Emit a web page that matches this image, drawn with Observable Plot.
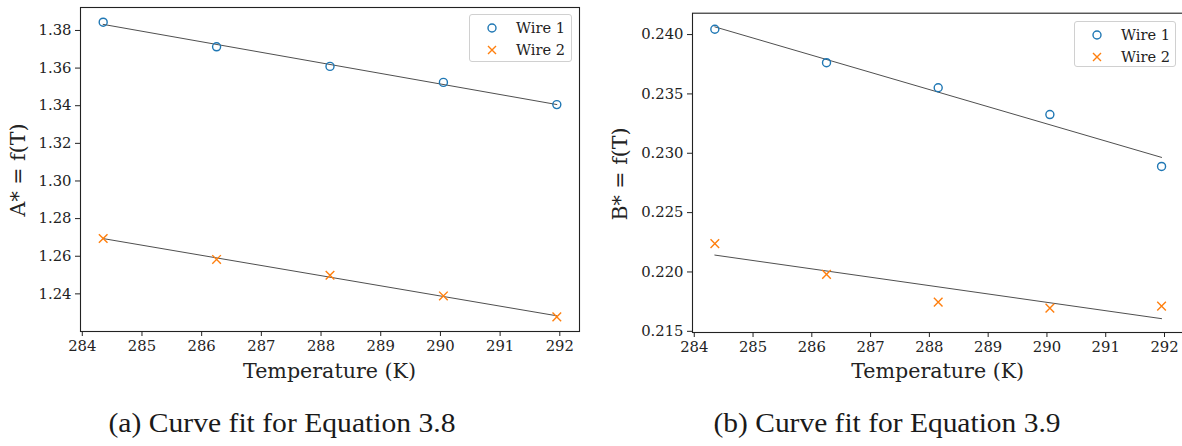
<!DOCTYPE html>
<html>
<head>
<meta charset="utf-8">
<script src="https://cdn.jsdelivr.net/npm/d3@7"></script>
<script src="https://cdn.jsdelivr.net/npm/@observablehq/plot@0.6"></script>
<style>
  body { margin: 0; background: white; }
  #fig { position: relative; width: 1182px; height: 446px; overflow: hidden; background: white; font-family: "DejaVu Serif", serif; color: #222; }
  .panel { position: absolute; top: 0; }
  .ylab, .xlab { position: absolute; white-space: nowrap; font-size: 20.6px; line-height: 1; }
  .ylab { transform: translate(-50%, -50%) rotate(-90deg); }
  .xlab { transform: translate(-50%, -50%); }
  .legend { position: absolute; box-sizing: border-box; border: 1px solid #d0d0d0; border-radius: 3px; background: rgba(255,255,255,0.8); font-size: 14.6px; }
  .legend .row { position: absolute; left: 0; right: 0; height: 20px; }
  .legend svg { position: absolute; left: 12px; top: 0; }
  .legend span { position: absolute; left: 46px; top: 1px; line-height: 18px; }
  .caption { position: absolute; top: 398px; }
</style>
</head>
<body>
<div id="fig"></div>
<script>
// Temperatures of the five measurements (K)
const temps = [284.35, 286.25, 288.15, 290.05, 291.95];

// Coefficient A* (Equation 3.8) for each wire
const aWire1 = [1.3844, 1.3713, 1.3609, 1.3524, 1.3406];
const aWire2 = [1.2694, 1.2583, 1.2499, 1.2389, 1.2278];

// Coefficient B* (Equation 3.9) for each wire
const bWire1 = [0.24045, 0.23763, 0.23552, 0.23326, 0.22889];
const bWire2 = [0.22239, 0.21980, 0.21746, 0.21695, 0.21712];

// Tick labels
const xTicks = [284, 285, 286, 287, 288, 289, 290, 291, 292];
const aTicks = [1.24, 1.26, 1.28, 1.30, 1.32, 1.34, 1.36, 1.38];
const bTicks = [0.215, 0.220, 0.225, 0.230, 0.235, 0.240];

const seriesNames = ["Wire 1", "Wire 2"];
const blue = "#1f77b4";
const orange = "#ff7f0e";
const serif = '"DejaVu Serif", serif';

const rows = (vals) => temps.map((t, i) => ({t, v: vals[i]}));

// One panel: both wires as markers, each with its least-squares line
function panel({w1, w2, yDomain, yTicks, yFormat, width, marginLeft, marginRight, marginTop, marginBottom}) {
  const r1 = rows(w1), r2 = rows(w2);
  return Plot.plot({
    width, height: 360,
    marginLeft, marginRight, marginTop, marginBottom,
    x: {domain: [283.97, 292.33]},
    y: {domain: yDomain},
    style: {fontFamily: serif, fontSize: "14.8px", color: "#222", background: "transparent", overflow: "visible"},
    marks: [
      Plot.axisX({ticks: xTicks, tickSize: 5, tickPadding: 4, tickFormat: d => String(d), label: null}),
      Plot.axisY({ticks: yTicks, tickSize: 5, tickPadding: 4, tickFormat: d3.format(yFormat), label: null}),
      Plot.linearRegressionY(r1, {x: "t", y: "v", ci: 0, stroke: "#222", strokeWidth: 0.8}),
      Plot.linearRegressionY(r2, {x: "t", y: "v", ci: 0, stroke: "#222", strokeWidth: 0.8}),
      Plot.dot(r1, {x: "t", y: "v", symbol: "circle", r: 4, stroke: blue, strokeWidth: 1.4, fill: "none"}),
      Plot.dot(r2, {x: "t", y: "v", symbol: "times", r: 4, stroke: orange, strokeWidth: 1.4}),
      Plot.frame({stroke: "#222", strokeWidth: 1.1})
    ]
  });
}

function legend(left, top, width, height) {
  const box = document.createElement("div");
  box.className = "legend";
  Object.assign(box.style, {left: left + "px", top: top + "px", width: width + "px", height: height + "px"});
  seriesNames.forEach((name, i) => {
    const row = document.createElement("div");
    row.className = "row";
    row.style.top = (3 + i * 22) + "px";
    const sym = i === 0
      ? `<circle cx="10" cy="10" r="4" fill="none" stroke="${blue}" stroke-width="1.4"/>`
      : `<path d="M6,6L14,14M6,14L14,6" stroke="${orange}" stroke-width="1.4"/>`;
    row.innerHTML = `<svg width="20" height="20">${sym}</svg><span>${name}</span>`;
    box.appendChild(row);
  });
  return box;
}

function label(cls, text, x, y) {
  const d = document.createElement("div");
  d.className = cls;
  d.textContent = text;
  d.style.left = x + "px";
  d.style.top = y + "px";
  return d;
}

function caption(text, cx) {
  const ns = "http://www.w3.org/2000/svg";
  const s = document.createElementNS(ns, "svg");
  s.setAttribute("class", "caption");
  s.setAttribute("width", 420);
  s.setAttribute("height", 48);
  s.style.left = (cx - 210) + "px";
  const t = document.createElementNS(ns, "text");
  t.setAttribute("x", 210);
  t.setAttribute("y", 34);
  t.setAttribute("text-anchor", "middle");
  t.setAttribute("textLength", 347);
  t.setAttribute("lengthAdjust", "spacingAndGlyphs");
  t.style.fontFamily = '"Liberation Serif", serif';
  t.style.fontSize = "27px";
  t.setAttribute("fill", "#1a1a1a");
  t.textContent = text;
  s.appendChild(t);
  return s;
}

const fig = document.getElementById("fig");

const left = panel({w1: aWire1, w2: aWire2, yDomain: [1.2200, 1.3922], yTicks: aTicks, yFormat: ".2f",
  width: 590, marginLeft: 80, marginRight: 11, marginTop: 7, marginBottom: 29});
left.classList.add("panel");
left.style.position = "absolute";
left.style.left = "0px";
fig.appendChild(left);

const right = panel({w1: bWire1, w2: bWire2, yDomain: [0.2149, 0.2418], yTicks: bTicks, yFormat: ".3f",
  width: 600, marginLeft: 92, marginRight: 16.6, marginTop: 12.7, marginBottom: 28});
right.classList.add("panel");
right.style.position = "absolute";
right.style.left = "600px";
fig.appendChild(right);

fig.appendChild(label("ylab", "A* = f(T)", 18, 170));
fig.appendChild(label("xlab", "Temperature (K)", 329.5, 371));
fig.appendChild(label("ylab", "B* = f(T)", 620, 174));
fig.appendChild(label("xlab", "Temperature (K)", 937.7, 371));

fig.appendChild(legend(469, 14, 103, 48));
fig.appendChild(legend(1074, 21, 102, 46));

fig.appendChild(caption("(a) Curve fit for Equation 3.8", 281.5));
fig.appendChild(caption("(b) Curve fit for Equation 3.9", 887));
</script>
</body>
</html>
